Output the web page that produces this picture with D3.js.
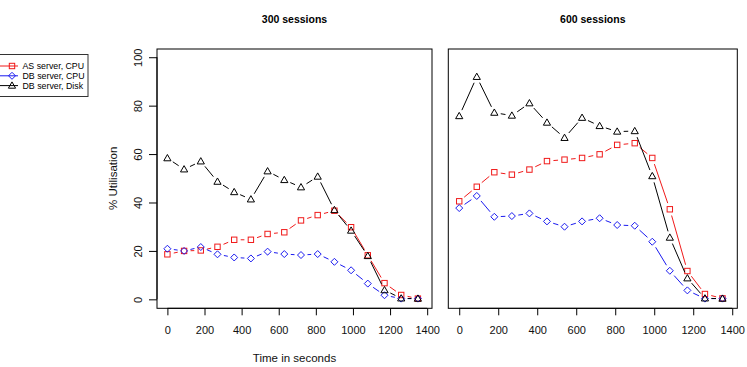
<!DOCTYPE html>
<html>
<head>
<meta charset="utf-8">
<script src="https://cdn.jsdelivr.net/npm/d3@7"></script>
<style>
  body { margin: 0; background: #fff; }
  svg { display: block; font-family: "Liberation Sans", Arial, Helvetica, sans-serif; }
</style>
</head>
<body>
<div id="chart-container"></div>
<script>
// time points (seconds) shared by both panels
const times = [0, 90, 180, 270, 360, 450, 540, 630, 720, 810, 900, 990, 1080, 1170, 1260, 1350];
const xTicks = [0, 200, 400, 600, 800, 1000, 1200, 1400];
const yTicks = [0, 20, 40, 60, 80, 100];

const seriesNames = ["AS server, CPU", "DB server, CPU", "DB server, Disk"];
const panelTitles = ["300 sessions", "600 sessions"];

// 300 sessions
const asCpu300 = [18.6, 20.0, 20.2, 21.7, 24.6, 24.6, 27.0, 27.7, 32.6, 34.8, 36.6, 29.8, 18.2, 6.7, 1.8, 0.3];
const dbCpu300 = [20.9, 20.0, 21.6, 18.6, 17.3, 16.9, 19.7, 18.7, 18.3, 18.7, 15.5, 12.0, 6.5, 1.7, 0.3, 0.3];
const dbDisk300 = [58.3, 53.7, 57.0, 48.6, 44.3, 41.3, 52.9, 49.3, 46.3, 50.7, 36.9, 28.4, 17.9, 3.8, 0.4, 0.3];

// 600 sessions
const asCpu600 = [40.5, 46.5, 52.5, 51.5, 53.6, 57.1, 57.7, 58.4, 59.9, 63.8, 64.5, 58.4, 37.2, 11.7, 2.2, 0.4];
const dbCpu600 = [37.7, 42.7, 34.1, 34.4, 35.5, 32.2, 30.0, 32.2, 33.5, 30.7, 30.4, 23.8, 11.8, 3.7, 0.3, 0.3];
const dbDisk600 = [75.7, 91.9, 77.1, 75.9, 81.0, 73.0, 66.7, 75.0, 71.6, 69.3, 69.5, 50.9, 25.5, 8.7, 0.4, 0.3];

const colors = ["#f01a1a", "#1a1af0", "#000000"];
const shapes = ["square", "diamond", "triangle"];

const width = 747, height = 367;
const plotTop = 49, plotBottom = 308.3;
const panels = [
  { title: panelTitles[0], left: 157, right: 432, data: [asCpu300, dbCpu300, dbDisk300], yAxis: true },
  { title: panelTitles[1], left: 448.3, right: 737.3, data: [asCpu600, dbCpu600, dbDisk600], yAxis: false }
];

const svg = d3.select("#chart-container").append("svg")
  .attr("width", width).attr("height", height);

const yScale = d3.scaleLinear().domain([-3.7, 103.4]).range([plotBottom, plotTop]);

function marker(g, shape, x, y, color) {
  if (shape === "square") {
    g.append("rect").attr("x", x - 2.7).attr("y", y - 2.7).attr("width", 5.4).attr("height", 5.4)
      .attr("fill", "none").attr("stroke", color).attr("stroke-width", 1);
  } else if (shape === "diamond") {
    g.append("path").attr("d", `M${x},${y - 3.5}L${x + 3.5},${y}L${x},${y + 3.5}L${x - 3.5},${y}Z`)
      .attr("fill", "none").attr("stroke", color).attr("stroke-width", 1);
  } else {
    g.append("path").attr("d", `M${x},${y - 3.7}L${x + 3.6},${y + 2.6}L${x - 3.6},${y + 2.6}Z`)
      .attr("fill", "none").attr("stroke", color).attr("stroke-width", 1);
  }
}

const gap = 6.5; // type "b" gap around points

panels.forEach((p) => {
  const xScale = d3.scaleLinear().domain([-56, 1426]).range([p.left, p.right]);
  const g = svg.append("g");

  // series: lines with gaps, then points
  p.data.forEach((vals, si) => {
    const pts = times.map((t, i) => [xScale(t), yScale(vals[i])]);
    for (let i = 0; i < pts.length - 1; i++) {
      const [x1, y1] = pts[i], [x2, y2] = pts[i + 1];
      const len = Math.hypot(x2 - x1, y2 - y1);
      if (len <= 2 * gap) continue;
      const ux = (x2 - x1) / len, uy = (y2 - y1) / len;
      g.append("line")
        .attr("x1", x1 + ux * gap).attr("y1", y1 + uy * gap)
        .attr("x2", x2 - ux * gap).attr("y2", y2 - uy * gap)
        .attr("stroke", colors[si]).attr("stroke-width", 1);
    }
    pts.forEach(([x, y]) => marker(g, shapes[si], x, y, colors[si]));
  });

  // box
  svg.append("rect")
    .attr("x", p.left).attr("y", plotTop)
    .attr("width", p.right - p.left).attr("height", plotBottom - plotTop)
    .attr("fill", "none").attr("stroke", "#000").attr("stroke-width", 1);

  // x axis
  const xAxisG = svg.append("g")
    .attr("transform", `translate(0, ${plotBottom})`)
    .call(d3.axisBottom(xScale).tickValues(xTicks).tickSize(7).tickPadding(11).tickFormat(d3.format("d")));
  xAxisG.select(".domain").attr("d", `M${xScale(0)},0H${xScale(1400)}`);
  xAxisG.selectAll("text").attr("font-size", 11).attr("font-family", null).attr("fill", "#111");

  // panel title
  svg.append("text")
    .attr("x", (p.left + p.right) / 2).attr("y", 23)
    .attr("text-anchor", "middle").attr("font-size", 10.5).attr("font-weight", "bold")
    .text(p.title);

  if (p.yAxis) {
    const yAxisG = svg.append("g")
      .attr("transform", `translate(${p.left}, 0)`)
      .call(d3.axisLeft(yScale).tickValues(yTicks).tickSize(8).tickPadding(4));
    yAxisG.select(".domain").attr("d", `M0,${yScale(0)}V${yScale(100)}`);
    yAxisG.selectAll(".tick text")
      .attr("font-size", 11).attr("font-family", null).attr("fill", "#111")
      .attr("x", null).attr("dy", null)
      .attr("transform", "translate(-19,0) rotate(-90)")
      .attr("text-anchor", "middle").attr("dominant-baseline", "central");

    svg.append("text")
      .attr("transform", `translate(113, ${(yScale(0) + yScale(100)) / 2}) rotate(-90)`)
      .attr("text-anchor", "middle").attr("dominant-baseline", "central")
      .attr("font-size", 11.5).attr("fill", "#111")
      .text("% Utilisation");

    svg.append("text")
      .attr("x", (p.left + p.right) / 2).attr("y", 362)
      .attr("text-anchor", "middle").attr("font-size", 11.5).attr("fill", "#111")
      .text("Time in seconds");
  }
});

// legend (box runs off the left edge like the original)
const legend = svg.append("g");
legend.append("rect")
  .attr("x", -10).attr("y", 54.5).attr("width", 98).attr("height", 42)
  .attr("fill", "#fff").attr("stroke", "#333").attr("stroke-width", 1);
seriesNames.forEach((name, i) => {
  const y = 66 + i * 9.8;
  legend.append("line").attr("x1", 0).attr("x2", 18).attr("y1", y).attr("y2", y)
    .attr("stroke", colors[i]).attr("stroke-width", 1);
  marker(legend, shapes[i], 12, y, colors[i]);
  legend.append("text").attr("x", 22.5).attr("y", y)
    .attr("dominant-baseline", "central").attr("font-size", 8.8)
    .text(name);
});
</script>
</body>
</html>
